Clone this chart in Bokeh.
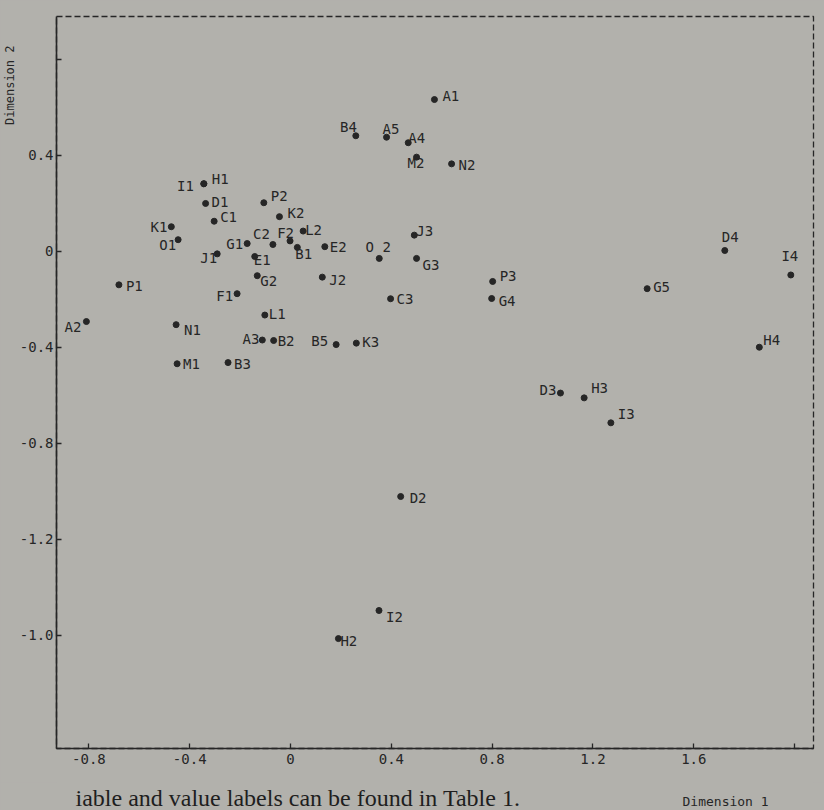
from bokeh.core.properties import value
from bokeh.embed import file_html
from bokeh.layouts import column
from bokeh.models import ColumnDataSource, FixedTicker, Label, Range1d, Title
from bokeh.plotting import figure
from bokeh.resources import INLINE

# Two-dimensional configuration of variable/value codes
codes = ["A1", "A2", "A3", "A4", "A5",
         "B1", "B2", "B3", "B4", "B5",
         "C1", "C2", "C3",
         "D1", "D2", "D3", "D4",
         "E1", "E2",
         "F1", "F2",
         "G1", "G2", "G3", "G4", "G5",
         "H1", "H2", "H3", "H4",
         "I1", "I2", "I3", "I4",
         "J1", "J2", "J3",
         "K1", "K2", "K3",
         "L1", "L2",
         "M1", "M2",
         "N1", "N2",
         "O1", "O 2",
         "P1", "P2", "P3"]

dim1 = [0.571, -0.810, -0.112, 0.467, 0.381,
        0.027, -0.067, -0.248, 0.259, 0.181,
        -0.303, -0.070, 0.397,
        -0.337, 0.437, 1.071, 1.723,
        -0.142, 0.136,
        -0.212, -0.002,
        -0.172, -0.132, 0.500, 0.798, 1.415,
        -0.344, 0.190, 1.165, 1.860,
        -0.344, 0.351, 1.271, 1.985,
        -0.291, 0.126, 0.491,
        -0.473, -0.044, 0.261,
        -0.102, 0.050,
        -0.450, 0.500,
        -0.454, 0.639,
        -0.446, 0.352,
        -0.681, -0.106, 0.802]

dim2 = [0.633, -0.292, -0.369, 0.453, 0.476,
        0.017, -0.371, -0.463, 0.482, -0.388,
        0.126, 0.029, -0.197,
        0.200, -1.021, -0.590, 0.004,
        -0.021, 0.020,
        -0.176, 0.044,
        0.033, -0.101, -0.029, -0.196, -0.155,
        0.282, -1.613, -0.610, -0.399,
        0.282, -1.496, -0.714, -0.098,
        -0.010, -0.107, 0.068,
        0.103, 0.145, -0.382,
        -0.265, 0.085,
        -0.468, 0.393,
        -0.305, 0.365,
        0.049, -0.029,
        -0.139, 0.203, -0.125]

x_ticks = [-0.8, -0.4, 0, 0.4, 0.8, 1.2, 1.6, 2.0]
x_tick_labels = ["-0.8", "-0.4", "0", "0.4", "0.8", "1.2", "1.6", ""]
y_ticks = [0.8, 0.4, 0, -0.4, -0.8, -1.2, -1.6]
y_tick_labels = ["", "0.4", "0", "-0.4", "-0.8", "-1.2", "-1.0"]

# Where each code's label sits relative to its point (pixels, y down)
label_place = {
    "A1": (8, -4, "left"), "A2": (-5, 5, "right"), "A3": (-3, -1, "right"),
    "A4": (0, -5, "left"), "A5": (-4, -8, "left"),
    "B1": (-2, 7, "left"), "B2": (4, 0, "left"), "B3": (6, 1, "left"),
    "B4": (1, -9, "right"), "B5": (-8, -4, "right"),
    "C1": (6, -4, "left"), "C2": (-3, -11, "right"), "C3": (6, 0, "left"),
    "D1": (6, -1, "left"), "D2": (9, 1, "left"), "D3": (-4, -3, "right"),
    "D4": (-3, -14, "left"),
    "E1": (-1, 3, "left"), "E2": (5, 0, "left"),
    "F1": (-4, 2, "right"), "F2": (4, -8, "right"),
    "G1": (-4, 0, "right"), "G2": (3, 5, "left"), "G3": (6, 7, "left"),
    "G4": (7, 2, "left"), "G5": (6, -2, "left"),
    "H1": (8, -5, "left"), "H2": (2, 2, "left"), "H3": (7, -10, "left"),
    "H4": (4, -7, "left"),
    "I1": (-10, 2, "right"), "I2": (7, 6, "left"), "I3": (7, -9, "left"),
    "I4": (-1, -19, "center"),
    "J1": (0, 4, "right"), "J2": (7, 3, "left"), "J3": (2, -4, "left"),
    "K1": (-4, 0, "right"), "K2": (8, -4, "left"), "K3": (6, -1, "left"),
    "L1": (4, -1, "left"), "L2": (2, -1, "left"),
    "M1": (6, 0, "left"), "M2": (-9, 6, "left"),
    "N1": (8, 5, "left"), "N2": (7, 1, "left"),
    "O1": (-2, 5, "right"), "O 2": (-1, -11, "center"),
    "P1": (7, 1, "left"), "P2": (7, -7, "left"), "P3": (7, -5, "left"),
}

PAPER = "#b2b1ac"
INK = "#262626"
MONO = "DejaVu Sans Mono"

source = ColumnDataSource(dict(
    x=dim1, y=dim2, code=codes,
    dx=[label_place[c][0] for c in codes],
    dy=[label_place[c][1] for c in codes],
    align=[label_place[c][2] for c in codes],
))

p = figure(width=824, height=782, output_backend="svg", toolbar_location=None,
           x_range=Range1d(-0.9286, 2.075), y_range=Range1d(-2.071, 0.979),
           min_border_left=56, min_border_right=11,
           min_border_top=16, min_border_bottom=34)

p.background_fill_color = PAPER
p.border_fill_color = PAPER
p.outline_line_color = INK
p.outline_line_dash = "6 3"
p.outline_line_width = 1.3
p.xgrid.visible = False
p.ygrid.visible = False

for ax in (p.xaxis[0], p.yaxis[0]):
    ax.axis_line_color = INK
    ax.axis_line_width = 1.6
    ax.major_tick_line_color = INK
    ax.major_tick_line_width = 1.3
    ax.major_tick_in = 5
    ax.major_tick_out = 0
    ax.minor_tick_line_color = None
    ax.major_label_text_font = MONO
    ax.major_label_text_font_size = "14px"
    ax.major_label_text_color = INK

p.xaxis.ticker = FixedTicker(ticks=x_ticks)
p.xaxis.major_label_overrides = dict(zip(x_ticks, x_tick_labels))
p.xaxis.major_label_standoff = 5
p.yaxis.ticker = FixedTicker(ticks=y_ticks)
p.yaxis.major_label_overrides = dict(zip(y_ticks, y_tick_labels))
p.yaxis.major_label_standoff = 3

# Vertical axis title, set near the top end of the left margin
p.add_layout(Title(text="Dimension 2", align="right", offset=29, standoff=0,
                   text_font=MONO, text_font_size="12px",
                   text_font_style="normal", text_color=INK), "left")

p.scatter("x", "y", source=source, size=6, color=INK)
p.text("x", "y", text="code", source=source,
       x_offset="dx", y_offset="dy", text_align="align",
       text_baseline="middle", text_font=value(MONO),
       text_font_size="14px", text_color=INK)

# Strip under the chart: horizontal axis title and the running text line.
# Its frame lines up with the chart frame (left edge at 56 px), so the
# screen positions below are measured from there.
foot = figure(width=824, height=28, output_backend="svg", toolbar_location=None,
              x_range=Range1d(0, 757), y_range=Range1d(0, 28),
              x_axis_location=None, y_axis_location=None,
              min_border_left=56, min_border_right=11,
              min_border_top=0, min_border_bottom=0)
foot.xgrid.visible = False
foot.ygrid.visible = False
foot.outline_line_color = None
foot.background_fill_color = PAPER
foot.border_fill_color = PAPER

foot.add_layout(Label(x=626, y=9, x_units="screen", y_units="screen",
                      text="Dimension 1", text_align="left",
                      text_baseline="middle", text_font=MONO,
                      text_font_size="13px", text_color=INK))
foot.add_layout(Label(x=19, y=0, x_units="screen", y_units="screen",
                      text="iable and value labels can be found in Table 1.",
                      text_align="left", text_baseline="bottom",
                      text_font="Liberation Serif", text_font_size="24px",
                      text_color="#1e1e1e"))

layout = column(p, foot, spacing=0)
layout.styles = {"background-color": PAPER}

open("out.html", "w").write(file_html(layout, INLINE))
